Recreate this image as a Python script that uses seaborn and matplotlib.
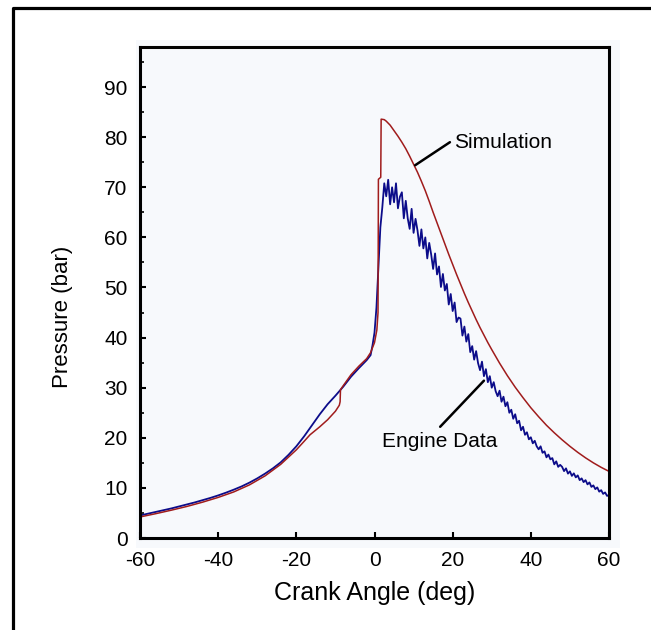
import numpy as np
import pandas as pd
import seaborn as sns
import matplotlib.pyplot as plt
from matplotlib.lines import Line2D
from matplotlib.patches import Rectangle

# Simulation trace (crank angle in deg, pressure in bar)
sim_angle = [-60, -56, -52, -48, -44, -40, -36, -32, -28, -24, -20, -18, -16.5, -14, -12, -10, -9, -8.8,
             -8.7, -8, -6, -4, -2, -1, 0, 0.6, 0.9, 1.0, 1.6, 1.7, 2.5, 3, 4, 5, 6, 7, 8, 9, 10, 11, 12,
             13, 14, 15, 16, 17, 18, 19, 20, 21, 22, 23, 24, 25, 26, 27, 28, 29, 30, 32, 34, 36, 38, 40,
             42, 44, 46, 48, 50, 52, 54, 56, 58, 60]
sim_pressure = [4.2, 4.85, 5.55, 6.3, 7.15, 8.1, 9.2, 10.6, 12.4, 14.7, 17.6, 19.3, 20.6, 22.2, 23.6, 25.3, 26.5, 27.2,
                29.6, 30.4, 32.6, 34.3, 35.8, 37.0, 39.0, 41.5, 45.0, 71.6, 72.0, 83.6, 83.5, 83.2, 82.4, 81.3, 80.2, 79.0, 77.7, 76.2, 74.6, 73.0, 71.2,
                69.3, 67.2, 65.0, 62.9, 60.8, 58.7, 56.6, 54.6, 52.6, 50.7, 48.8, 47.0, 45.3, 43.6, 42.0, 40.5, 39.0, 37.6, 34.9, 32.4, 30.1, 28.0, 26.0,
                24.2, 22.5, 21.0, 19.6, 18.3, 17.1, 16.0, 15.0, 14.1, 13.3]

# Engine data trace (noisy after ignition)
eng_angle = [-60, -58, -56, -54, -52, -50, -48, -46, -44, -42, -40, -38, -36, -34, -32, -30, -28, -26, -24, -22,
             -20, -18, -16, -14, -12, -10, -9, -8, -6, -4, -2, -1, -0.5, 0, 0.5, 1.0, 1.5,
             2.0, 2.5, 3.0, 3.5, 4.0, 4.5, 5.0, 5.5, 6.0, 6.5, 7.0, 7.5, 8.0, 8.5, 9.0, 9.5, 10.0, 10.5,
             11.0, 11.5, 12.0, 12.5, 13.0, 13.5, 14.0, 14.5, 15.0, 15.5, 16.0, 16.5, 17.0, 17.5, 18.0, 18.5,
             19.0, 19.5, 20.0, 20.5, 21.0, 21.5, 22.0, 22.5, 23.0, 23.5, 24.0, 24.5, 25.0, 25.5, 26.0, 26.5,
             27.0, 27.5, 28.0, 28.5, 29.0, 29.5, 30.0, 30.5, 31.0, 31.5, 32.0, 32.5, 33.0, 33.5, 34.0, 34.5,
             35.0, 35.5, 36.0, 36.5, 37.0, 37.5, 38.0, 38.5, 39.0, 39.5, 40.0, 40.5,
             41.0, 41.5, 42.0, 42.5, 43.0, 43.5, 44.0, 44.5, 45.0, 45.5, 46.0, 46.5, 47.0, 47.5, 48.0, 48.5,
             49.0, 49.5, 50.0, 50.5, 51.0, 51.5, 52.0, 52.5, 53.0, 53.5, 54.0, 54.5, 55.0, 55.5, 56.0, 56.5,
             57.0, 57.5, 58.0, 58.5, 59.0, 59.5, 60.0]
eng_pressure = [4.5, 4.85, 5.2, 5.55, 5.9, 6.3, 6.7, 7.1, 7.55, 8.0, 8.5, 9.05, 9.65, 10.3, 11.05, 11.9, 12.85, 13.9, 15.1, 16.6,
                18.3, 20.3, 22.5, 24.7, 26.7, 28.4, 29.3, 30.2, 32.2, 33.9, 35.5, 36.5, 38.5, 41.0, 46.0, 54.0, 62.0,
                66.0, 70.8, 68.2, 71.5, 66.6, 70.0, 67.0, 70.8, 65.8, 68.1, 69.0, 63.8, 67.3, 63.8, 61.7, 65.7, 60.9, 63.7,
                61.4, 58.3, 61.6, 57.8, 60.0, 55.8, 58.9, 56.6, 53.7, 56.8, 52.6, 54.2, 50.1, 52.7, 49.4, 50.7,
                46.6, 48.7, 45.3, 47.0, 43.1, 44.0, 43.8, 40.4, 42.2, 39.2, 40.7, 37.1, 38.3, 35.6, 37.3, 34.9,
                33.5, 35.2, 32.3, 33.7, 31.1, 32.3, 30.0, 31.1, 29.3, 28.3, 29.4, 27.2, 28.2, 26.3, 27.1, 25.0,
                25.6, 23.8, 24.7, 22.9, 23.4, 21.5, 22.2, 20.6, 21.1, 19.7, 20.1, 18.9,
                19.4, 18.3, 17.7, 18.3, 17.0, 17.3, 16.1, 16.65, 15.7, 15.95, 14.7, 15.3, 14.2, 14.6, 14.2, 13.35,
                13.9, 12.85, 13.3, 12.4, 12.9, 12.1, 12.5, 11.55, 11.9, 11.15, 11.55, 10.7, 11.1, 10.2, 10.5, 9.75,
                10.1, 9.25, 9.55, 8.8, 9.1, 8.4, 8.6]

sim = pd.DataFrame({'angle': sim_angle, 'pressure': sim_pressure})
eng = pd.DataFrame({'angle': eng_angle, 'pressure': eng_pressure})

sns.set_style('ticks')
plt.rcParams['font.family'] = ['Liberation Sans', 'DejaVu Sans']
plt.rcParams['axes.unicode_minus'] = False
plt.rcParams['text.color'] = 'black'
plt.rcParams['axes.labelcolor'] = 'black'
plt.rcParams['xtick.color'] = 'black'
plt.rcParams['ytick.color'] = 'black'

fig = plt.figure(figsize=(6.51, 6.3), dpi=100)
# light tinted panel behind the plot
fig.add_artist(Rectangle((136 / 651, 1 - 548 / 630), 484 / 651, 508 / 630,
                         transform=fig.transFigure, facecolor='#f7f9fc', edgecolor='none', zorder=0))
# outer frame (left and top only)
fig.add_artist(Line2D([13 / 651, 13 / 651, 1], [0, 1 - 8 / 630, 1 - 8 / 630],
                      transform=fig.transFigure, color='black', lw=2.3))

ax = fig.add_axes([140 / 651, 1 - 538 / 630, 469 / 651, 491 / 630])
ax.set_facecolor('#f7f9fc')

sns.lineplot(data=eng, x='angle', y='pressure', ax=ax, color='#0c0c8a', lw=1.3,
             estimator=None, sort=False)
sns.lineplot(data=sim, x='angle', y='pressure', ax=ax, color='#a01c1c', lw=1.1,
             estimator=None, sort=False)

ax.set_xlim(-60, 60)
ax.set_ylim(0, 98)
ax.set_xticks([-60, -40, -20, 0, 20, 40, 60])
ax.set_yticks(range(0, 100, 10))
ax.set_yticks(range(5, 100, 10), minor=True)
ax.tick_params(axis='both', which='major', direction='in', length=4, width=1.5, labelsize=15, pad=9)
ax.tick_params(axis='y', which='minor', direction='in', length=3, width=1.2)
for s in ax.spines.values():
    s.set_visible(True)
    s.set_linewidth(2.2)
    s.set_color('black')

ax.set_xlabel('Crank Angle (deg)', size=18, labelpad=8)
ax.set_ylabel('Pressure (bar)', size=16)
ax.yaxis.set_label_coords(-0.142, 0.45)

# callouts
ax.plot([10.4, 19.3], [74.4, 79.0], color='black', lw=1.8)
ax.text(20.4, 79.0, 'Simulation', size=15, ha='left', va='center')
ax.plot([16.8, 28.0], [22.2, 31.4], color='black', lw=1.8)
ax.text(1.9, 19.2, 'Engine Data', size=15, ha='left', va='center')

plt.savefig('out.png', dpi=100)
plt.close()
